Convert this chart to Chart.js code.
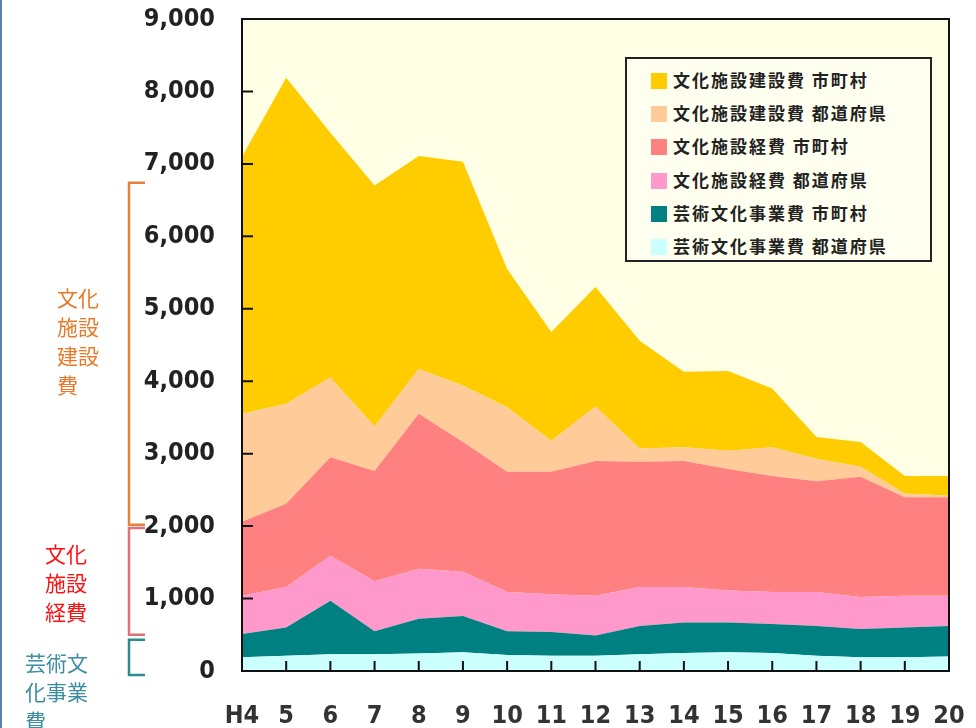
<!DOCTYPE html>
<html>
<head>
<meta charset="utf-8">
<script src="https://cdn.jsdelivr.net/npm/chart.js@4.4.0/dist/chart.umd.min.js"></script>
<style>
body{margin:0;background:#fff;}
#wrap{position:relative;width:976px;height:728px;overflow:hidden;}
#edge{position:absolute;left:0;top:0;width:2px;height:728px;background:#5b7fa6;}
.note{position:absolute;font-family:"Noto Sans CJK JP",sans-serif;font-size:21px;line-height:29px;}
#legend{position:absolute;left:625px;top:57px;width:303px;height:201px;border:2px solid #222;background:#fffff0;
  font-family:"Noto Sans CJK JP",sans-serif;font-weight:bold;font-size:17px;color:#222;letter-spacing:2px;}
#legend div{position:absolute;left:24px;height:22px;line-height:22px;white-space:nowrap;}
#legend span{display:inline-block;width:16px;height:16px;vertical-align:-2px;margin-right:6px;}
</style>
</head>
<body>
<div id="wrap">
<canvas id="myChart" width="976" height="728"></canvas>
<div id="edge"></div>
<div class="note" style="left:57px;top:283px;color:#e87a2a">文化<br>施設<br>建設<br>費</div>
<div class="note" style="left:45px;top:539px;color:#ff1010">文化<br>施設<br>経費</div>
<div class="note" style="left:25px;top:648px;color:#3a8ea0">芸術文<br>化事業<br>費</div>
<div id="legend"></div>
</div>
<script>
// 年度 (平成)
var years=["H4","5","6","7","8","9","10","11","12","13","14","15","16","17","18","19","20"];

// 億円, 下から積み上げ
var artsPref=[190,210,230,230,240,260,220,210,210,230,250,260,250,210,190,190,200];
var artsCity=[320,390,740,320,480,500,330,330,280,390,420,410,400,410,390,410,420];
var opsPref=[530,560,620,690,690,610,540,520,550,540,490,440,440,470,440,440,420];
var opsCity=[1020,1150,1360,1520,2140,1790,1660,1690,1860,1730,1740,1680,1600,1530,1660,1360,1360];
var buildPref=[1490,1380,1100,620,620,780,890,430,750,180,190,250,400,310,140,50,20];
var buildCity=[3550,4500,3380,3320,2940,3090,1910,1500,1650,1490,1040,1100,810,300,340,240,270];

var names=["芸術文化事業費 都道府県","芸術文化事業費 市町村","文化施設経費 都道府県","文化施設経費 市町村","文化施設建設費 都道府県","文化施設建設費 市町村"];
var colors=["#ccffff","#008080","#ff99cc","#ff8080","#ffcc99","#ffcc00"];
var values=[artsPref,artsCity,opsPref,opsCity,buildPref,buildCity];

// 左側の括弧 (上端, 下端, 色)
var brackets=[[6740,2020,"#e8803a"],[1975,500,"#e0707a"],[430,-55,"#2e8b8b"]];

var ds=values.map(function(v,i){
  return {label:names[i],data:v,backgroundColor:colors[i],borderWidth:0,pointRadius:0,
    fill:i==0?"origin":"-1",tension:0};
});

var numFont={family:"'Liberation Sans Narrow','DejaVu Sans Condensed',sans-serif",size:25,weight:"bold"};

var deco={
  id:"deco",
  beforeDatasetsDraw:function(c){
    var a=c.chartArea,ctx=c.ctx;
    ctx.save();
    ctx.fillStyle="#ffffe6";
    ctx.fillRect(a.left,a.top,a.right-a.left,a.bottom-a.top);
    ctx.restore();
  },
  afterDraw:function(c){
    var a=c.chartArea,ctx=c.ctx,x=c.scales.x,y=c.scales.y;
    ctx.save();
    ctx.strokeStyle="#111";
    ctx.lineWidth=2;
    ctx.beginPath();
    y.ticks.forEach(function(t,i){
      var py=y.getPixelForTick(i);
      ctx.moveTo(a.left,py);ctx.lineTo(a.left+11,py);
    });
    x.ticks.forEach(function(t,i){
      var px=x.getPixelForTick(i);
      ctx.moveTo(px,a.bottom);ctx.lineTo(px,a.bottom-10);
    });
    ctx.stroke();
    ctx.strokeRect(a.left,a.top,a.right-a.left,a.bottom-a.top);
    ctx.lineWidth=2.5;
    brackets.forEach(function(b){
      var t=y.getPixelForValue(b[0]),btm=y.getPixelForValue(b[1]);
      ctx.strokeStyle=b[2];
      ctx.beginPath();
      ctx.moveTo(145,t);ctx.lineTo(129,t);ctx.lineTo(129,btm);ctx.lineTo(145,btm);
      ctx.stroke();
    });
    ctx.restore();
  }
};

new Chart("myChart",{
  type:"line",
  data:{labels:years,datasets:ds},
  options:{
    responsive:false,
    animation:false,
    layout:{padding:{top:19,right:27,left:0,bottom:0}},
    plugins:{legend:{display:false},tooltip:{enabled:false}},
    scales:{
      x:{
        offset:false,
        grid:{display:false,drawTicks:false},
        border:{display:false},
        ticks:{font:numFont,color:"#333",padding:30,maxRotation:0,autoSkip:false},
        afterFit:function(s){s.height=57;s.paddingLeft=0;s.paddingRight=0;}
      },
      y:{
        stacked:true,min:0,max:9000,
        grid:{display:false,drawTicks:false},
        border:{display:false},
        ticks:{stepSize:1000,font:numFont,color:"#222",padding:27,
          callback:function(v){return v.toLocaleString("en-US");}},
        afterFit:function(s){s.width=242;s.paddingTop=0;s.paddingBottom=0;}
      }
    }
  },
  plugins:[deco]
});

// 凡例 (上の系列から)
var leg=document.getElementById("legend");
for(var i=names.length-1;i>=0;i--){
  var row=document.createElement("div");
  row.style.top=(10+(names.length-1-i)*33.2)+"px";
  row.innerHTML='<span style="background:'+colors[i]+'"></span>'+names[i];
  leg.appendChild(row);
}
</script>
</body>
</html>
